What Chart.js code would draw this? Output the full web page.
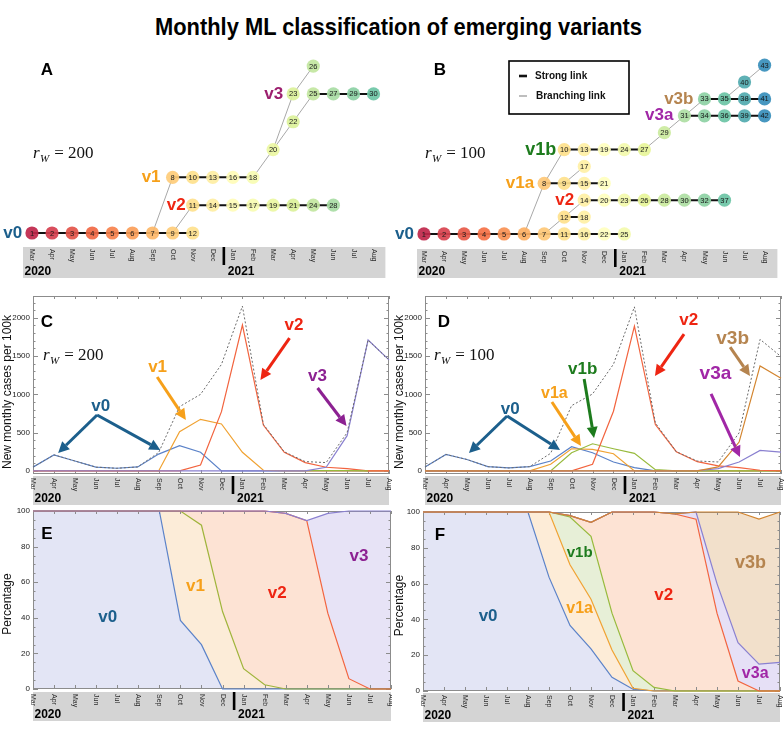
<!DOCTYPE html>
<html><head><meta charset="utf-8">
<title>Monthly ML classification of emerging variants</title>
<script src="https://cdn.jsdelivr.net/npm/chart.js@4.4.1/dist/chart.umd.min.js"></script>
<style>
html,body{margin:0;padding:0;background:#fff}
#wrap{position:relative;width:784px;height:732px;overflow:hidden;background:#fff}
#wrap canvas{position:absolute}
#title{position:absolute;left:155px;top:15px;white-space:nowrap;font-family:"Liberation Sans Narrow","Liberation Sans",Arial,sans-serif;font-weight:bold;font-size:24px;line-height:24px;color:#000;transform-origin:0 0}
</style></head><body>
<div id="wrap">
<div id="title">Monthly ML classification of emerging variants</div>
<canvas id="cA" width="392" height="250" style="left:0;top:40px"></canvas>
<canvas id="cB" width="392" height="250" style="left:392px;top:40px"></canvas>
<canvas id="cC" width="392" height="222" style="left:0;top:285px"></canvas>
<canvas id="cD" width="392" height="222" style="left:392px;top:285px"></canvas>
<canvas id="cE" width="392" height="232" style="left:0;top:500px"></canvas>
<canvas id="cF" width="392" height="232" style="left:392px;top:500px"></canvas>
</div>
<script>
// ---------------- DATA ----------------
const months = ['Mar','Apr','May','Jun','Jul','Aug','Sep','Oct','Nov','Dec','Jan','Feb','Mar','Apr','May','Jun','Jul','Aug'];
const years = ['2020','2021'];
const caseTicks = [0,500,1000,1500,2000];
const pctTicks = [0,20,40,60,80,100];

// Panel A tree: [node id, month index, row]
const treeA_nodes = [
  [1,0,0],[2,1,0],[3,2,0],[4,3,0],[5,4,0],[6,5,0],[7,6,0],[9,7,0],[12,8,0],
  [11,8,1],[14,9,1],[15,10,1],[17,11,1],[19,12,1],[21,13,1],[24,14,1],[28,15,1],
  [8,7,2],[10,8,2],[13,9,2],[16,10,2],[18,11,2],
  [20,12,3],[22,13,4],
  [23,13,5],[25,14,5],[27,15,5],[29,16,5],[30,17,5],
  [26,14,6]
];
const treeA_strong = [[1,2,3,4,5,6,7,9,12],[8,10,13,16,18],[11,14,15,17,19,21,24,28],[25,27,29,30]];
const treeA_branch = [[7,8],[9,11],[18,20],[20,23],[20,22],[22,25],[23,26]];

// Panel B tree: [node id, month index, row]
const treeB_nodes = [
  [1,0,0],[2,1,0],[3,2,0],[4,3,0],[5,4,0],[6,5,0],[7,6,0],[11,7,0],[16,8,0],[22,9,0],[25,10,0],
  [12,7,1],[18,8,1],
  [14,8,2],[20,9,2],[23,10,2],[26,11,2],[28,12,2],[30,13,2],[32,14,2],[37,15,2],
  [8,6,3],[9,7,3],[15,8,3],[21,9,3],
  [17,8,4],
  [10,7,5],[13,8,5],[19,9,5],[24,10,5],[27,11,5],
  [29,12,6],
  [31,13,7],[34,14,7],[36,15,7],[39,16,7],[42,17,7],
  [33,14,8],[35,15,8],[38,16,8],[41,17,8],
  [40,16,9],[43,17,10]
];
const treeB_strong = [[1,2,3,4,5,6,7,11,16,22,25],[12,18],[14,20,23,26,28,30,32,37],[8,9,15,21],[10,13,19,24,27],[31,34,36,39,42],[33,35,38,41]];
const treeB_branch = [[6,8],[8,10],[7,12],[12,14],[9,17],[27,29],[29,31],[31,33],[35,40],[40,43]];

// Panel C: new monthly cases per 100k (r_W = 200)
const C_v0    = [50,210,130,50,35,52,220,330,245,0,0,0,0,0,0,0,0,0];
const C_v1    = [0,0,0,0,0,0,0,513,674,613,244,9,0,0,0,0,0,0];
const C_v2    = [0,0,0,0,0,0,0,0,78,774,1905,600,244,109,48,30,0,0];
const C_v3    = [0,0,0,0,0,0,0,0,0,0,0,0,0,0,48,461,1710,1450];
const C_other = [null,null,null,null,null,null,null,null,null,null,null,null,null,6,6,6,0,null];
const C_total = [50,210,130,50,35,52,240,840,1000,1392,2153,610,250,122,109,500,1710,1450];

// Panel D: new monthly cases per 100k (r_W = 100)
const D_v0    = [50,215,150,56,39,56,130,316,238,117,43,0,0,0,0,0,0,0];
const D_v1a   = [0,0,0,0,0,0,87,290,281,225,0,0,0,0,0,0,0,0];
const D_v1b   = [0,0,0,0,0,0,0,238,355,290,230,17,0,0,0,0,0,0];
const D_v2    = [0,0,0,0,0,0,0,0,87,780,1892,606,251,121,65,43,9,0];
const D_v3a   = [0,0,0,0,0,0,0,0,0,0,0,0,0,5,30,117,268,247];
const D_v3b   = [0,0,0,0,0,0,0,0,0,0,0,0,0,0,52,377,1372,1212];
const D_total = [50,215,150,56,39,56,230,853,1005,1394,2143,628,251,130,117,498,1719,1494];

// Panel E: percentage (r_W = 200)
const E_v0 = [100,100,100,100,100,100,100,38.5,24.9,0,0,0,0,0,0,0,0,0];
const E_v1 = [0,0,0,0,0,0,0,61.5,67.1,43.5,11.4,2.4,0,0,0,0,0,0];
const E_v2 = [0,0,0,0,0,0,0,0,8,56.5,88.6,97.6,98.7,94.6,42.6,5.8,0,0];
const E_v3 = [0,0,0,0,0,0,0,0,0,0,0,0,0,0,56.1,94.2,100,100];

// Panel F: percentage (r_W = 100)
const F_v0  = [100,100,100,100,100,100,63.6,36.6,23.5,7.6,1.0,0,0,0,0,0,0,0];
const F_v1a = [0,0,0,0,0,0,36.4,33.9,27.8,15.3,0.5,0,0,0,0,0,0,0];
const F_v1b = [0,0,0,0,0,0,0,26.7,35.1,20.6,9.9,2.0,0,0,0,0,0,0];
const F_v2  = [0,0,0,0,0,0,0,0.8,7.8,56.5,88.6,98.0,98.9,96.0,43.5,5.6,0,0];
const F_v3a = [0,0,0,0,0,0,0,0,0,0,0,0,0,4.0,16.5,21.4,15.0,16.0];
const F_v3b = [0,0,0,0,0,0,0,0,0,0,0,0,0,0,40.0,73.0,81.0,84.0];

// ---------------- STYLE ----------------
const FONT = '"Liberation Sans", Arial, Helvetica, sans-serif';
const SERIF = '"Liberation Serif", "Times New Roman", serif';
const LINE = {v0:'#5b82c8', v1:'#f0a232', v1a:'#f0a232', v1b:'#97ba3c', v2:'#f2643f', v3:'#8a80d0', v3a:'#8a80d0', v3b:'#d3852f', other:'#97ba3c', olive:'#9fb43a'};
const FILL = {v0:'#e3e5f5', v1:'#fcecd8', v1a:'#fdecd7', v1b:'#e7efd7', v2:'#fde3d4', v3:'#e7e3f6', v3a:'#e6e0f6', v3b:'#f2e0cb'};
const TXT = {v0:'#1c5f8c', v1:'#f6a01a', v2:'#ee2512', v3:'#8c2192', v3A:'#9c1f6e', v1b:'#1d7b1d', v3a:'#a127a6', v3b:'#b5844f'};
const SPECTRAL = ['#9e0142','#d53e4f','#f46d43','#fdae61','#fee08b','#ffffbf','#e6f598','#abdda4','#66c2a5','#3288bd','#5e4fa2'];
function hexRgb(h){return [parseInt(h.slice(1,3),16),parseInt(h.slice(3,5),16),parseInt(h.slice(5,7),16)];}
function spectral(t){
  const n=SPECTRAL.length-1, p=Math.max(0,Math.min(1,t))*n, i=Math.min(n-1,Math.floor(p)), f=p-i;
  const a=hexRgb(SPECTRAL[i]), b=hexRgb(SPECTRAL[i+1]);
  const c=a.map((v,k)=>Math.round(v+(b[k]-v)*f));
  return `rgba(${c[0]},${c[1]},${c[2]},0.92)`;
}
Chart.defaults.font.family = FONT;

// ---------------- HELPERS ----------------
function drawBand(ctx, x, left, right, top, h){
  ctx.save();
  ctx.fillStyle='#d4d4d4'; ctx.fillRect(left, top, right-left, h);
  ctx.fillStyle='#2a2a2a'; ctx.font=`7px ${FONT}`; ctx.textAlign='left'; ctx.textBaseline='middle';
  months.forEach((m,i)=>{ const px=x.getPixelForValue(i); ctx.save(); ctx.translate(px, top+2); ctx.rotate(Math.PI/2); ctx.fillText(m,0,0); ctx.restore(); });
  const dx=x.getPixelForValue(9.55);
  ctx.fillStyle='#000'; ctx.fillRect(dx-1.3, top, 2.6, 18);
  ctx.font=`bold 12px ${FONT}`; ctx.textBaseline='alphabetic';
  ctx.fillText(years[0], left+1.5, top+h-3);
  ctx.fillText(years[1], dx+4, top+h-3);
  ctx.restore();
}
function drawRw(ctx, x, y, val){
  ctx.save(); ctx.fillStyle='#111'; ctx.textAlign='left'; ctx.textBaseline='alphabetic';
  ctx.font=`italic 17px ${SERIF}`; ctx.fillText('r', x, y); let w=ctx.measureText('r').width+0.5;
  ctx.font=`italic 11px ${SERIF}`; ctx.fillText('W', x+w, y+4); w+=ctx.measureText('W').width+5;
  ctx.font=`17px ${SERIF}`; ctx.fillText('= '+val, x+w, y);
  ctx.restore();
}
function letter(ctx, t, x, y){ ctx.save(); ctx.font=`bold 17px ${FONT}`; ctx.fillStyle='#000'; ctx.textAlign='center'; ctx.textBaseline='middle'; ctx.fillText(t,x,y); ctx.restore(); }
function arrow(ctx, x1,y1,x2,y2,color){
  const ang=Math.atan2(y2-y1,x2-x1), hl=11, hw=5.5;
  const bx=x2-hl*Math.cos(ang), by=y2-hl*Math.sin(ang);
  ctx.save(); ctx.strokeStyle=color; ctx.fillStyle=color; ctx.lineWidth=3;
  ctx.beginPath(); ctx.moveTo(x1,y1); ctx.lineTo(bx,by); ctx.stroke();
  ctx.beginPath(); ctx.moveTo(x2,y2); ctx.lineTo(bx+hw*Math.sin(ang), by-hw*Math.cos(ang)); ctx.lineTo(bx-hw*Math.sin(ang), by+hw*Math.cos(ang)); ctx.closePath(); ctx.fill();
  ctx.restore();
}
function vlabel(ctx, t, color, size, px, py, align){
  ctx.save(); ctx.font=`bold ${size}px ${FONT}`; ctx.fillStyle=color; ctx.textAlign=align||'center'; ctx.textBaseline='middle'; ctx.fillText(t,px,py); ctx.restore();
}

// ---------------- TREES ----------------
function treeChart(id, cfg){
  const pos={}; cfg.nodes.forEach(n=>pos[n[0]]={x:n[1],y:n[2]});
  const ds=[{data:cfg.nodes.map(n=>({x:n[1],y:n[2]})), pointRadius:6.6, pointHoverRadius:6.6, pointBorderWidth:0,
    pointBackgroundColor:cfg.nodes.map(n=>spectral(cfg.t0+(cfg.t1-cfg.t0)*n[1]/17)), showLine:false}];
  cfg.strong.forEach(ch=>ds.push({data:ch.map(i=>({...pos[i]})), showLine:true, borderColor:'#111', borderWidth:2, pointRadius:0}));
  cfg.branch.forEach(([a,b])=>ds.push({data:[{...pos[a]},{...pos[b]}], showLine:true, borderColor:'#a8a8a8', borderWidth:1, pointRadius:0}));
  const plugin={
    id:'tree'+id,
    afterDatasetsDraw(chart){
      const ctx=chart.ctx, meta=chart.getDatasetMeta(0);
      ctx.save(); ctx.font=`7.5px ${FONT}`; ctx.fillStyle='#1a1a1a'; ctx.textAlign='center'; ctx.textBaseline='middle';
      meta.data.forEach((pt,i)=>ctx.fillText(String(cfg.nodes[i][0]), pt.x, pt.y+0.5));
      ctx.restore();
    },
    afterDraw(chart){
      const {ctx, chartArea:a, scales:{x,y}}=chart;
      drawBand(ctx, x, a.left, a.right, a.bottom, cfg.bandH);
      cfg.labels.forEach(l=>vlabel(ctx, l.t, l.c, l.s, x.getPixelForValue(l.x), y.getPixelForValue(l.y), 'right'));
      letter(ctx, cfg.letter, cfg.letterPos[0], cfg.letterPos[1]);
      drawRw(ctx, cfg.rwPos[0], cfg.rwPos[1], cfg.rw);
      if (cfg.legend){
        const L=cfg.legend;
        ctx.save(); ctx.strokeStyle='#000'; ctx.lineWidth=1.6; ctx.strokeRect(L.x, L.y, L.w, L.h);
        ctx.strokeStyle='#111'; ctx.lineWidth=2.6; ctx.beginPath(); ctx.moveTo(L.x+10,L.y+15); ctx.lineTo(L.x+18,L.y+15); ctx.stroke();
        ctx.strokeStyle='#a8a8a8'; ctx.lineWidth=1.5; ctx.beginPath(); ctx.moveTo(L.x+10,L.y+35); ctx.lineTo(L.x+18,L.y+35); ctx.stroke();
        ctx.fillStyle='#111'; ctx.font=`bold 10px ${FONT}`; ctx.textAlign='left'; ctx.textBaseline='middle';
        ctx.fillText('Strong link', L.x+26, L.y+15); ctx.fillText('Branching link', L.x+27, L.y+35);
        ctx.restore();
      }
    }
  };
  new Chart(document.getElementById(id), {
    type:'scatter', data:{datasets:ds},
    options:{responsive:false, animation:false, events:[], devicePixelRatio:1,
      layout:{padding:cfg.pad},
      plugins:{legend:{display:false}, tooltip:{enabled:false}},
      scales:{x:{type:'linear', display:false, min:cfg.xr[0], max:cfg.xr[1]}, y:{type:'linear', display:false, min:cfg.yr[0], max:cfg.yr[1]}}},
    plugins:[plugin]
  });
}

treeChart('cA', {nodes:treeA_nodes, strong:treeA_strong, branch:treeA_branch, t0:0.06, t1:0.79,
  pad:{left:23,right:5,top:15,bottom:43}, xr:[-0.446,17.59], yr:[-0.504,6.40], bandH:31,
  labels:[{t:'v0',c:TXT.v0,s:17,x:-0.49,y:0},{t:'v1',c:TXT.v1,s:17,x:6.4,y:2},{t:'v2',c:TXT.v2,s:17,x:7.65,y:1},{t:'v3',c:TXT.v3A,s:17,x:12.5,y:5}],
  letter:'A', letterPos:[47,30], rw:'200', rwPos:[33,118]});

treeChart('cB', {nodes:treeB_nodes, strong:treeB_strong, branch:treeB_branch, t0:0.06, t1:0.89,
  pad:{left:25,right:4,top:15,bottom:41}, xr:[-0.347,17.64], yr:[-0.89,10.6], bandH:29,
  labels:[{t:'v0',c:TXT.v0,s:17,x:-0.5,y:0},{t:'v1a',c:TXT.v1,s:17,x:5.5,y:3},{t:'v1b',c:TXT.v1b,s:18,x:6.6,y:5},{t:'v2',c:TXT.v2,s:17,x:7.5,y:2},{t:'v3a',c:TXT.v3a,s:17,x:12.45,y:7},{t:'v3b',c:TXT.v3b,s:17,x:13.45,y:8}],
  letter:'B', letterPos:[48,30], rw:'100', rwPos:[33,118], legend:{x:117,y:21,w:120,h:53}});

// ---------------- SERIES PANELS ----------------
function seriesChart(id, cfg){
  const plugin={
    id:'series'+id,
    beforeDatasetsDraw(chart){
      const {ctx, chartArea:a, scales:{x,y}}=chart;
      ctx.save(); ctx.strokeStyle='#8c8c8c'; ctx.lineWidth=1;
      ctx.strokeRect(a.left+0.5, a.top+0.5, a.right-a.left-1, a.bottom-a.top-1);
      ctx.beginPath();
      for(let i=0;i<months.length;i++){ const px=Math.round(x.getPixelForValue(i))+0.5; ctx.moveTo(px,a.bottom); ctx.lineTo(px,a.bottom-4); ctx.moveTo(px,a.top); ctx.lineTo(px,a.top+3); }
      cfg.ticks.forEach(v=>{ const py=Math.round(y.getPixelForValue(v))+0.5; ctx.moveTo(a.left,py); ctx.lineTo(a.left+5,py); ctx.moveTo(a.right,py); ctx.lineTo(a.right-5,py); });
      for(let v=cfg.minor[0]; v<=cfg.minor[1]; v+=cfg.minor[2]){ if(cfg.ticks.includes(v)) continue; const py=Math.round(y.getPixelForValue(v))+0.5; if(py<a.top||py>a.bottom) continue; ctx.moveTo(a.left,py); ctx.lineTo(a.left+2.5,py); ctx.moveTo(a.right,py); ctx.lineTo(a.right-2.5,py); }
      ctx.stroke(); ctx.restore();
      ctx.save(); ctx.beginPath(); ctx.rect(a.left-2, a.top-2, a.right-a.left+4, a.bottom-a.top+4); ctx.clip();
      chart.data.datasets.forEach((d,i)=>{ const m=chart.getDatasetMeta(i); if(m.dataset) m.dataset.draw(ctx, a); });
      ctx.restore();
      return false;
    },
    afterDraw(chart){
      const {ctx, chartArea:a, scales:{x,y}}=chart;
      drawBand(ctx, x, a.left, a.right, a.bottom+cfg.bandGap, cfg.bandH);
      ctx.save(); ctx.translate(7.5, (a.top+a.bottom)/2+cfg.titleDy); ctx.rotate(-Math.PI/2);
      ctx.font=`12px ${FONT}`; ctx.fillStyle='#111'; ctx.textAlign='center'; ctx.textBaseline='middle'; ctx.fillText(cfg.yTitle,0,0); ctx.restore();
      (cfg.arrows||[]).forEach(r=>arrow(ctx, x.getPixelForValue(r[1]), y.getPixelForValue(r[2]), x.getPixelForValue(r[3]), y.getPixelForValue(r[4]), r[0]));
      cfg.labels.forEach(l=>vlabel(ctx, l.t, l.c, l.s, x.getPixelForValue(l.x), y.getPixelForValue(l.y)));
      letter(ctx, cfg.letter, cfg.letterPos[0], cfg.letterPos[1]);
      if(cfg.rw) drawRw(ctx, cfg.rwPos[0], cfg.rwPos[1], cfg.rw);
    }
  };
  new Chart(document.getElementById(id), {
    type:'line',
    data:{labels:months, datasets:cfg.datasets.map(d=>Object.assign({pointRadius:0, pointHoverRadius:0, borderWidth:1.2, tension:0, spanGaps:false}, d))},
    options:{responsive:false, animation:false, events:[], devicePixelRatio:1,
      layout:{padding:cfg.pad},
      plugins:{legend:{display:false}, tooltip:{enabled:false}, filler:{drawTime:'beforeDatasetsDraw', propagate:false}},
      scales:{
        x:{type:'category', display:false, offset:false},
        y:{type:'linear', min:cfg.yr[0], max:cfg.yr[1], stacked:!!cfg.stacked,
           afterFit:s=>{s.width=cfg.axisW;},
           afterBuildTicks:s=>{s.ticks=cfg.ticks.map(v=>({value:v}));},
           grid:{display:false, drawTicks:false}, border:{display:false},
           ticks:{padding:3, color:'#222', font:{size:8, family:FONT}, callback:v=>String(v)}}
      }},
    plugins:[plugin]
  });
}

seriesChart('cC', {
  datasets:[
    {data:C_v0, borderColor:LINE.v0, fill:false},
    {data:C_v1, borderColor:LINE.v1, fill:false},
    {data:C_v2, borderColor:LINE.v2, fill:false},
    {data:C_other, borderColor:LINE.other, fill:false},
    {data:C_v3, borderColor:LINE.v3, fill:false},
    {data:C_total, borderColor:'#6a6a6a', borderWidth:1, borderDash:[2,2], fill:false}
  ],
  pad:{left:0,right:3,top:11,bottom:33}, axisW:33, yr:[-40,2285], ticks:caseTicks, minor:[0,2200,100],
  bandGap:2, bandH:29, yTitle:'New monthly cases per 100k', titleDy:7,
  arrows:[[TXT.v0,3.06,730,1.2,235],[TXT.v0,3.06,730,6.08,274],[TXT.v1,5.93,1227,7.3,666],[TXT.v2,12.25,1736,10.86,1188],[TXT.v3,13.59,1083,14.97,587]],
  labels:[{t:'v0',c:TXT.v0,s:17,x:3.23,y:839},{t:'v1',c:TXT.v1,s:17,x:5.95,y:1353},{t:'v2',c:TXT.v2,s:17,x:12.46,y:1905},{t:'v3',c:TXT.v3,s:17,x:13.58,y:1231}],
  letter:'C', letterPos:[47,37], rw:'200', rwPos:[43,75]
});

seriesChart('cD', {
  datasets:[
    {data:D_v0, borderColor:LINE.v0, fill:false},
    {data:D_v1a, borderColor:LINE.v1a, fill:false},
    {data:D_v1b, borderColor:LINE.v1b, fill:false},
    {data:D_v2, borderColor:LINE.v2, fill:false},
    {data:D_v3a, borderColor:LINE.v3a, fill:false},
    {data:D_v3b, borderColor:LINE.v3b, fill:false},
    {data:D_total, borderColor:'#6a6a6a', borderWidth:1, borderDash:[2,2], fill:false}
  ],
  pad:{left:0,right:3,top:11,bottom:33}, axisW:33, yr:[-40,2285], ticks:caseTicks, minor:[0,2200,100],
  bandGap:2, bandH:29, yTitle:'New monthly cases per 100k', titleDy:7,
  arrows:[[TXT.v0,3.92,718,2.1,235],[TXT.v0,3.92,718,6.45,274],[TXT.v1,6.06,900,7.45,326],[TXT.v1b,7.6,1200,8.07,430],[TXT.v2,12.37,1788,10.98,1240],[TXT.v3b,14.57,1618,15.52,1240],[TXT.v3a,13.66,1005,15.04,183]],
  labels:[{t:'v0',c:TXT.v0,s:17,x:4.07,y:809},{t:'v1a',c:TXT.v1,s:16,x:6.18,y:1005},{t:'v1b',c:TXT.v1b,s:17,x:7.53,y:1331},{t:'v2',c:TXT.v2,s:17,x:12.59,y:1962},{t:'v3b',c:TXT.v3b,s:19,x:14.69,y:1732},{t:'v3a',c:TXT.v3a,s:19,x:13.87,y:1266}],
  letter:'D', letterPos:[52,37], rw:'100', rwPos:[42,75]
});

seriesChart('cE', {
  stacked:true,
  datasets:[
    {data:E_v0, borderColor:LINE.v0, backgroundColor:FILL.v0, fill:'origin'},
    {data:E_v1, borderColor:LINE.olive, backgroundColor:FILL.v1, fill:'-1'},
    {data:E_v2, borderColor:LINE.v2, backgroundColor:FILL.v2, fill:'-1'},
    {data:E_v3, borderColor:LINE.v3, backgroundColor:FILL.v3, fill:'-1'}
  ],
  pad:{left:0,right:1,top:11,bottom:43}, axisW:33, yr:[0,100], ticks:pctTicks, minor:[0,100,5],
  bandGap:3, bandH:29, yTitle:'Percentage', titleDy:4,
  labels:[{t:'v0',c:TXT.v0,s:17,x:3.55,y:40.3},{t:'v1',c:TXT.v1,s:17,x:7.72,y:57.9},{t:'v2',c:TXT.v2,s:17,x:11.6,y:53.8},{t:'v3',c:TXT.v3,s:17,x:15.48,y:74.3}],
  letter:'E', letterPos:[47,34]
});

seriesChart('cF', {
  stacked:true,
  datasets:[
    {data:F_v0, borderColor:LINE.v0, backgroundColor:FILL.v0, fill:'origin'},
    {data:F_v1a, borderColor:LINE.v1a, backgroundColor:FILL.v1a, fill:'-1'},
    {data:F_v1b, borderColor:LINE.v1b, backgroundColor:FILL.v1b, fill:'-1'},
    {data:F_v2, borderColor:LINE.v2, backgroundColor:FILL.v2, fill:'-1'},
    {data:F_v3a, borderColor:LINE.v3a, backgroundColor:FILL.v3a, fill:'-1'},
    {data:F_v3b, borderColor:LINE.v3b, backgroundColor:FILL.v3b, fill:'-1'}
  ],
  pad:{left:0,right:4,top:12,bottom:41}, axisW:31, yr:[0,100], ticks:pctTicks, minor:[0,100,5],
  bandGap:2, bandH:29, yTitle:'Percentage', titleDy:4,
  labels:[{t:'v0',c:TXT.v0,s:17,x:3.1,y:41.5},{t:'v1b',c:TXT.v1b,s:15,x:7.46,y:76.9},{t:'v1a',c:TXT.v1,s:16,x:7.46,y:46.2},{t:'v2',c:TXT.v2,s:17,x:11.46,y:53.6},{t:'v3b',c:TXT.v3b,s:18,x:15.59,y:71.3},{t:'v3a',c:TXT.v3a,s:16,x:15.82,y:9.9}],
  letter:'F', letterPos:[48,35]
});

// title width to match reference
(function(){ const t=document.getElementById('title'); const w=t.getBoundingClientRect().width; if(w>0) t.style.transform=`scaleX(${487/w})`; })();
</script>
</body></html>
